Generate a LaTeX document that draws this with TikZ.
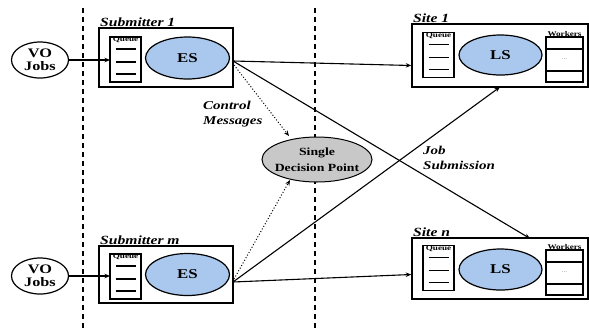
\documentclass[tikz,border=0pt]{standalone}
\usepackage{fontspec}
\setmainfont{Liberation Serif}[FakeStretch=1.25]
\usetikzlibrary{arrows.meta,calc,shapes.geometric}
\begin{document}
\begin{tikzpicture}[x=1pt,y=-1pt,
  box/.style={draw,line width=1.5pt,inner sep=0pt},
  vo/.style={draw,ellipse,line width=1.2pt,minimum width=57pt,minimum height=36pt,inner sep=0pt,align=center,font=\bfseries\fontsize{13}{13}\selectfont},
  es/.style={draw,ellipse,line width=1.2pt,fill=esblue,minimum width=84pt,minimum height=42pt,inner sep=0pt,font=\bfseries\fontsize{13.5}{14}\selectfont},
  lbl/.style={font=\bfseries\itshape\fontsize{12.5}{13}\selectfont,inner sep=0pt},
  tiny/.style={font=\bfseries\fontsize{7.3}{8}\selectfont,inner sep=0pt},
  arr/.style={-{Stealth[length=5.5pt,width=4.5pt]},line width=1.1pt},
  dotarr/.style={-{Stealth[length=5.5pt,width=4.5pt]},line width=1pt,dotted},
  sep/.style={line width=1.6pt,dash pattern=on 5pt off 4pt},
  queue/.pic={
    \draw[line width=1.3pt] (-15.5,-22.5) rectangle (15.5,22.5);
    \draw[line width=1.1pt] (-10,-10.5) -- (10,-10.5) (-10,2.5) -- (10,2.5) (-10,14.5) -- (10,14.5);
    \node[tiny] at (0,-19.5) {Queue};
  },
  workers/.pic={
    \draw[line width=1.3pt] (-18.5,-22.5) rectangle (18.5,22.5);
    \draw[line width=1.1pt] (-18.5,-10.5) -- (18.5,-10.5) (-18.5,11.5) -- (18.5,11.5);
    \node[font=\fontsize{6}{6}\selectfont,text=gray,inner sep=0pt] at (0,0) {...};
    \node[tiny] at (0,-25.5) {Workers};
  }]
\definecolor{esblue}{RGB}{170,200,238}
\definecolor{dpgray}{RGB}{200,200,200}
\useasboundingbox (0,0) rectangle (589,330);

% separators
\draw[sep] (83,8) -- (83,330);
\draw[sep] (315,8) -- (315,330);

% Submitter 1
\node[vo] (vo1) at (40,60) {VO\\Jobs};
\node[box,minimum width=134pt,minimum height=59pt] (sub1) at (166,57.5) {};
\node[lbl,anchor=south west] (sub1l) at (100,27) {Submitter 1};
\pic at (125.5,59.5) {queue};
\coordinate (q1) at (110,60);
\node[es] (es1) at (187.5,58) {ES};

% Submitter m
\node[vo] (vom) at (40,276) {VO\\Jobs};
\node[box,minimum width=134pt,minimum height=57pt] (subm) at (166,274.5) {};
\node[lbl,anchor=south west] (subml) at (100,245) {Submitter m};
\pic at (125.5,276.5) {queue};
\coordinate (qm) at (110,276);
\node[es] (esm) at (187.5,274.5) {ES};

% Site 1
\node[box,minimum width=176pt,minimum height=63pt] (site1) at (500,55.5) {};
\node[lbl,anchor=south west] (site1l) at (413,23) {Site 1};
\pic at (438.5,55) {queue};
\node[es,minimum width=83pt,minimum height=40pt] (ls1) at (500.5,55) {LS};
\pic at (564.5,59.5) {workers};

% Site n
\node[box,minimum width=176pt,minimum height=61pt] (siten) at (500,268.5) {};
\node[lbl,anchor=south west] (sitenl) at (413,237) {Site n};
\pic at (438.5,268) {queue};
\node[es,minimum width=83pt,minimum height=41pt] (lsn) at (500.5,269.5) {LS};
\pic at (564.5,272.5) {workers};

% decision point
\node[draw,ellipse,line width=1pt,fill=dpgray,minimum width=110pt,minimum height=45pt,inner sep=-7pt,align=center,font=\bfseries\fontsize{11}{16}\selectfont] (dp) at (317,159.5) {Single\\Decision Point};

% labels
\node[font=\bfseries\itshape\fontsize{12}{14.5}\selectfont,align=left,anchor=north west,inner sep=0pt] (cm) at (203,101) {Control\\Messages};
\node[font=\bfseries\itshape\fontsize{12}{14.5}\selectfont,align=left,anchor=north west,inner sep=0pt] (js) at (423,146) {Job\\Submission};

% connectors
\draw[arr] (vo1) -- (q1);
\draw[arr] (vom) -- (qm);
\coordinate (s1o) at (233,61);
\coordinate (smo) at (233,282);
\draw[arr] (s1o) -- ([yshift=-10pt]site1.west);
\draw[arr] (s1o) -- (530,238.5);
\draw[arr] (smo) -- ([yshift=-6pt]siten.west);
\draw[arr] (smo) -- (500,87);
\draw[dotarr] (234,65) -- (289,136);
\draw[dotarr] (234,279) -- (290,180);
\end{tikzpicture}
\end{document}
